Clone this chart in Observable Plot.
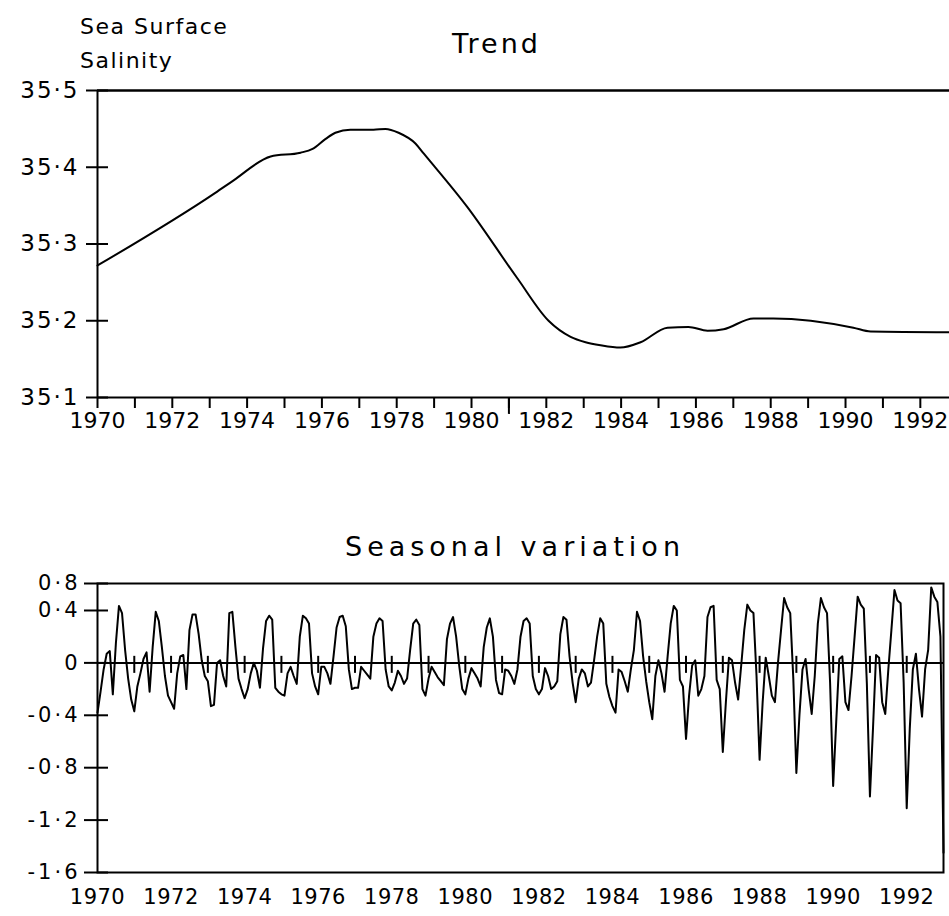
<!DOCTYPE html>
<html><head><meta charset="utf-8">
<script src="https://cdn.jsdelivr.net/npm/d3@7"></script>
<script src="https://cdn.jsdelivr.net/npm/@observablehq/plot@0.6"></script>
<style>
body{margin:0;background:#fff;}
#wrap{position:relative;width:949px;height:916px;font-family:"DejaVu Sans",sans-serif;color:#000;overflow:hidden;}
.t{position:absolute;white-space:nowrap;}
#ylab{left:80px;top:10px;font-size:22px;line-height:34px;letter-spacing:1.5px;}
#t1{left:452px;top:28px;font-size:27px;line-height:32px;letter-spacing:3px;}
#t2{left:515px;top:531px;font-size:27px;line-height:32px;letter-spacing:5px;transform:translateX(-50%);}
#top{position:absolute;left:0;top:0;}
#bot{position:absolute;left:0;top:560px;}
#top g[aria-label="y-axis tick label"] text{letter-spacing:2px;}
#bot g[aria-label="y-axis tick label"] text{letter-spacing:3px;}
#bot g[aria-label="x-axis tick label"] text{letter-spacing:0.5px;}
</style></head><body>
<div id="wrap">
  <div class="t" id="ylab">Sea Surface<br>Salinity</div>
  <div class="t" id="t1">Trend</div>
  <div class="t" id="t2">Seasonal variation</div>
  <div id="top"></div>
  <div id="bot"></div>
</div>
<script>
// ---- Trend panel data ----
const trendYears = [1970.0, 1973.16, 1973.64, 1974.63, 1975.43, 1975.75, 1976.10, 1976.36, 1976.76, 1977.38, 1977.70, 1978.05, 1978.50, 1978.72, 1979.89, 1981.23, 1982.06, 1982.65, 1983.05, 1983.45, 1983.98, 1984.52, 1985.24, 1985.80, 1986.31, 1986.74, 1987.54, 1988.07, 1990.21, 1990.67, 1992.78];
const trendValues = [35.272, 35.367, 35.383, 35.414, 35.419, 35.424, 35.437, 35.445, 35.449, 35.449, 35.450, 35.445, 35.431, 35.418, 35.348, 35.255, 35.200, 35.179, 35.172, 35.168, 35.165, 35.172, 35.191, 35.192, 35.187, 35.189, 35.203, 35.203, 35.191, 35.186, 35.185];
const trendTicksY = [35.1, 35.2, 35.3, 35.4, 35.5];
const trendTickYears = [1970,1971,1972,1973,1974,1975,1976,1977,1978,1979,1980,1981,1982,1983,1984,1985,1986,1987,1988,1989,1990,1991,1992];
const trendLabelYears = [1970,1972,1974,1976,1978,1980,1982,1984,1986,1988,1990,1992];
const trendLongTick = [1981];

// ---- Seasonal variation data (monthly, Jan..Dec per year, in the axis' own labelled units) ----
const seasonalStartYear = 1970;
const seasonal = [
  [-0.38, -0.22, -0.05, 0.07, 0.09, -0.24, 0.15, 0.468, 0.38, 0.10, -0.12, -0.28], // 1970
  [-0.37, -0.18, -0.08, 0.03, 0.08, -0.22, 0.12, 0.39, 0.32, 0.12, -0.10, -0.25],  // 1971
  [-0.30, -0.35, -0.08, 0.05, 0.06, -0.20, 0.25, 0.37, 0.37, 0.22, 0.02, -0.10],   // 1972
  [-0.14, -0.33, -0.32, 0.00, 0.02, -0.10, -0.18, 0.38, 0.39, 0.12, -0.12, -0.20], // 1973
  [-0.27, -0.20, -0.08, 0.00, -0.06, -0.19, 0.11, 0.32, 0.36, 0.33, -0.19, -0.22], // 1974
  [-0.24, -0.25, -0.08, -0.03, -0.10, -0.16, 0.20, 0.36, 0.34, 0.30, -0.08, -0.18],// 1975
  [-0.24, -0.03, -0.03, -0.08, -0.16, 0.05, 0.27, 0.35, 0.36, 0.28, -0.05, -0.20], // 1976
  [-0.19, -0.19, -0.03, -0.06, -0.09, -0.12, 0.20, 0.30, 0.34, 0.32, -0.05, -0.18],// 1977
  [-0.21, -0.15, -0.06, -0.10, -0.16, -0.12, 0.10, 0.30, 0.33, 0.29, -0.20, -0.25],// 1978
  [-0.12, -0.03, -0.07, -0.11, -0.14, -0.17, 0.18, 0.30, 0.35, 0.20, -0.02, -0.20],// 1979
  [-0.24, -0.12, -0.04, -0.08, -0.12, -0.18, 0.12, 0.27, 0.34, 0.20, -0.13, -0.23],// 1980
  [-0.24, -0.05, -0.06, -0.10, -0.16, -0.05, 0.20, 0.32, 0.34, 0.30, -0.10, -0.20],// 1981
  [-0.24, -0.20, -0.04, -0.10, -0.20, -0.18, -0.14, 0.22, 0.35, 0.33, 0.05, -0.15],// 1982
  [-0.30, -0.12, -0.05, -0.08, -0.18, -0.15, 0.02, 0.20, 0.34, 0.30, -0.16, -0.26],// 1983
  [-0.33, -0.38, -0.05, -0.07, -0.14, -0.22, -0.05, 0.10, 0.39, 0.32, 0.05, -0.14],// 1984
  [-0.30, -0.43, -0.10, 0.02, -0.08, -0.22, 0.05, 0.30, 0.468, 0.40, -0.13, -0.18],// 1985
  [-0.58, -0.25, -0.02, 0.02, -0.25, -0.20, -0.10, 0.35, 0.448, 0.468, -0.13, -0.20],// 1986
  [-0.68, -0.30, 0.04, 0.02, -0.15, -0.28, -0.02, 0.25, 0.487, 0.40, 0.38, -0.10],  // 1987
  [-0.74, -0.30, 0.04, -0.10, -0.25, -0.30, 0.00, 0.25, 0.585, 0.448, 0.38, -0.12], // 1988
  [-0.84, -0.40, -0.05, 0.03, -0.20, -0.39, -0.10, 0.30, 0.585, 0.448, 0.38, -0.15],// 1989
  [-0.94, -0.45, 0.03, 0.05, -0.30, -0.36, -0.10, 0.20, 0.605, 0.487, 0.428, -0.16],// 1990
  [-1.02, -0.50, 0.06, 0.04, -0.30, -0.39, -0.05, 0.25, 0.703, 0.547, 0.507, -0.15],// 1991
  [-1.11, -0.50, -0.05, 0.07, -0.20, -0.41, -0.05, 0.10, 0.742, 0.605, 0.527, 0.20] // 1992
];
const seasonalFinal = [-1.45]; // Jan 1993
const seasonalTicksY = [-1.6, -1.2, -0.8, -0.4, 0, 0.4, 0.8];
const seasonalYearMarks = [1971,1972,1973,1974,1975,1976,1977,1978,1979,1980,1981,1982,1983,1984,1985,1986,1987,1988,1989,1990,1991,1992];
const seasonalLabelYears = [1970,1972,1974,1976,1978,1980,1982,1984,1986,1988,1990,1992];

// ---- build tables ----
const trend = trendYears.map((x, i) => ({x, y: trendValues[i]}));
const seasonalData = [];
seasonal.forEach((row, yi) => row.forEach((v, m) => seasonalData.push({x: seasonalStartYear + yi + m / 12, y: v})));
seasonalFinal.forEach((v, i) => seasonalData.push({x: seasonalStartYear + seasonal.length + i / 12, y: v}));

const dotFmt = d => Math.abs(d) < 1e-9 ? "0" : (d < 0 ? "-" : "") + Math.abs(d).toFixed(1).replace(".", "·");

// the original axis is compressed above 0.4 (0.4 -> 0.8 spans about half a normal step)
const K = 0.515;
const compressTop = v => v <= 0.4 ? v : 0.4 + (v - 0.4) * K;
const expandTop = v => v <= 0.4 + 1e-9 ? v : 0.4 + (v - 0.4) / K;

// ---- Trend plot ----
const topPlot = Plot.plot({
  width: 949, height: 450,
  marginTop: 90, marginBottom: 53, marginLeft: 97, marginRight: 0,
  x: {domain: [1970, 1992.78]},
  y: {domain: [35.1, 35.5]},
  style: {fontFamily: "DejaVu Sans, sans-serif", fontSize: "22px", color: "#000", background: "transparent", overflow: "visible"},
  marks: [
    Plot.ruleY([35.5], {stroke: "#000", strokeWidth: 2.5}),
    Plot.ruleY([35.1], {stroke: "#000", strokeWidth: 2}),
    Plot.ruleX([1970], {y1: 35.1, y2: 35.5, stroke: "#000", strokeWidth: 2}),
    Plot.axisY({ticks: trendTicksY, tickSize: 22, dx: 11, tickPadding: 7, tickFormat: dotFmt, strokeWidth: 2, fontSize: 23, label: null}),
    Plot.axisX({ticks: trendTickYears, tickSize: 11, tickPadding: 4, strokeWidth: 2, fontSize: 22, tickFormat: d => trendLabelYears.includes(d) ? String(d) : "", label: null}),
    Plot.ruleX(trendLongTick, {y1: 35.1, y2: 35.078, stroke: "#000", strokeWidth: 2}),
    Plot.line(trend, {x: "x", y: "y", curve: "monotone-x", stroke: "#000", strokeWidth: 2})
  ]
});
document.getElementById("top").appendChild(topPlot);

// ---- Seasonal plot ----
const botPlot = Plot.plot({
  width: 949, height: 356,
  marginTop: 23, marginBottom: 44, marginLeft: 97, marginRight: 6,
  x: {domain: [1970, 1993]},
  y: {domain: [-1.6, compressTop(0.8)], transform: compressTop},
  style: {fontFamily: "DejaVu Sans, sans-serif", fontSize: "21px", color: "#000", background: "transparent", overflow: "visible"},
  marks: [
    Plot.frame({stroke: "#000", strokeWidth: 2}),
    Plot.ruleY([0], {stroke: "#000", strokeWidth: 2}),
    Plot.ruleX(seasonalYearMarks, {y1: 0.05, y2: -0.08, stroke: "#000", strokeWidth: 2}),
    Plot.axisY({ticks: seasonalTicksY.map(compressTop), tickSize: 24, dx: 11, tickPadding: 4, tickFormat: d => dotFmt(expandTop(d)), strokeWidth: 2, label: null}),
    Plot.axisX({ticks: seasonalLabelYears, tickSize: 0, tickPadding: 17, tickFormat: d => String(d), label: null}),
    Plot.line(seasonalData, {x: "x", y: "y", stroke: "#000", strokeWidth: 2})
  ]
});
document.getElementById("bot").appendChild(botPlot);
</script>
</body></html>
